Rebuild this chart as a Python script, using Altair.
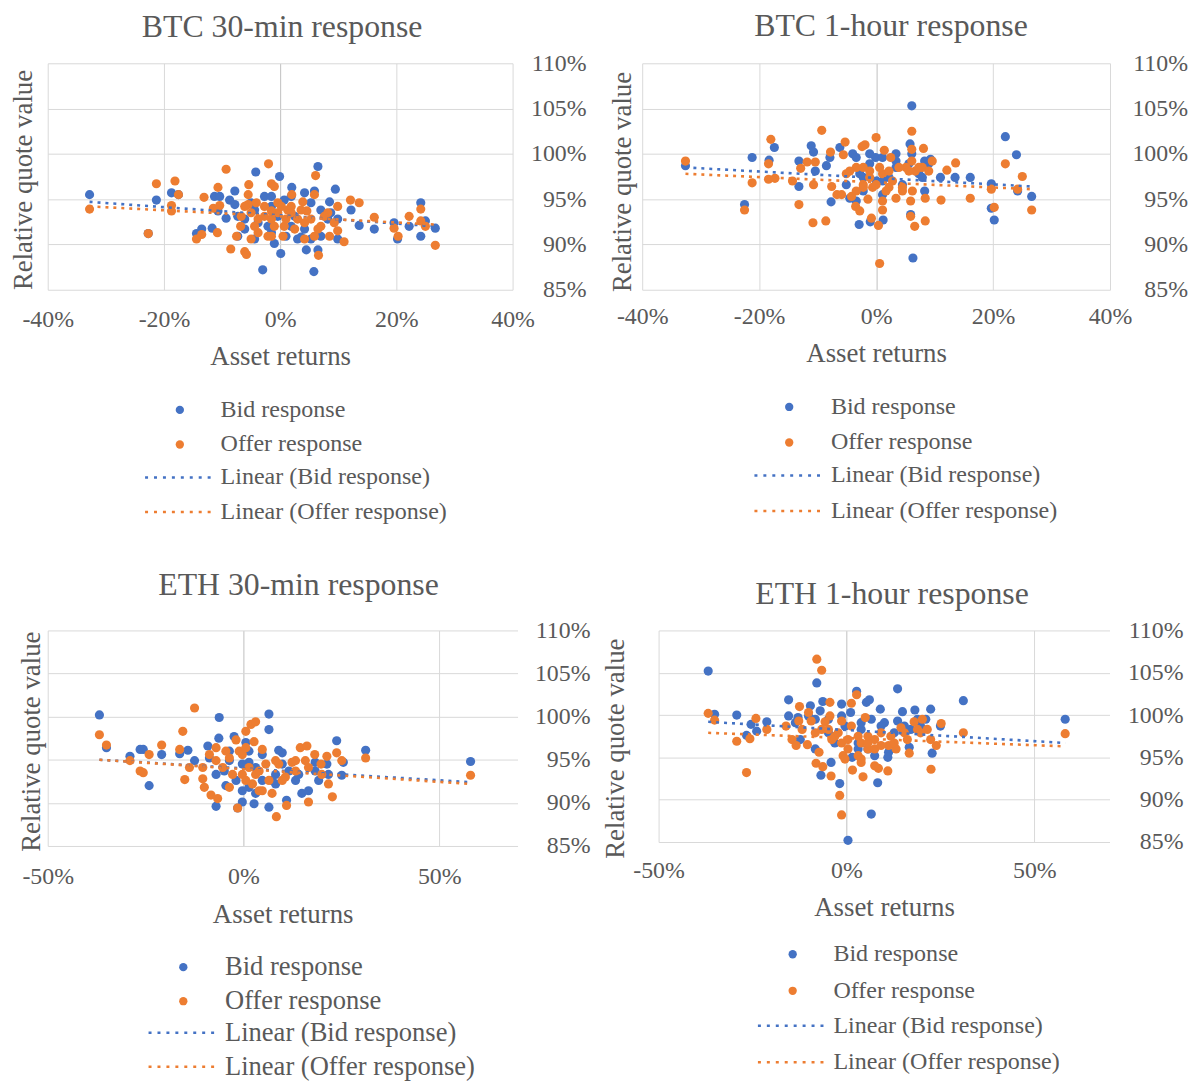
import altair as alt
import pandas as pd

BLUE = "#4472C4"
ORANGE = "#ED7D31"
TEXT = "#595959"
GRID = "#D9D9D9"
AXIS0 = "#BFBFBF"
FONT = "Liberation Serif"

SERIES = ["Bid response", "Offer response"]
TRENDS = ["Linear (Bid response)", "Linear (Offer response)"]
Y_TICKS = [85, 90, 95, 100, 105, 110]

# ---------------- data (asset return %, relative quote value %) ----------------
BTC30_BID = [(-32.8,95.5),(-21.3,94.9),(-18.7,95.7),(-17.5,95.5),(-22.7,91.2),(-14.4,91.2),(-13.5,91.7),(-11.7,91.8),
             (-11.3,95.3),(-10.4,95.3),(-10.7,93.7),(-9.3,92.9),(-7.8,95.9),(-8.7,94.9),(-7.8,94.4),(-4.2,98.0),(-0.1,97.5),
             (2.0,96.3),(6.5,98.6),(5.9,95.9),(9.5,96.1),(8.5,94.7),(12.2,93.8),(13.6,92.1),(16.2,91.7),(19.6,92.4),(22.2,92.0),
             (24.2,94.6),(25.0,92.6),(26.7,91.8),(24.2,90.9),(20.2,90.6),(-3.0,87.2),(5.8,87.0),(0.1,89.0),(-1.0,90.1),(4.5,89.4),
             (6.5,89.4),(-4.4,90.6),(-7.3,90.9),(3.6,90.8),(9.9,90.6),(-2.7,95.3),(-1.5,94.2),(0.7,94.9),(2.5,93.1),(-2.1,92.0),
             (-6.1,92.8),(7.0,93.8),(8.2,92.8),(4.2,91.7),(-4.4,93.8),(-0.4,93.1),(1.9,92.0),(5.3,94.6),(8.7,93.5),(-7.3,93.1),
             (1.0,90.9),(-1.5,91.3),(-5.0,94.6),(-1.5,95.3),(1.9,95.3),(4.2,95.7),(-3.8,92.4),(7.0,90.9),(5.3,90.6),(-6.1,91.7),
             (3.0,90.6),(9.9,92.8)]
BTC30_OFFER = [(-32.8,93.9),(-21.3,96.7),(-18.1,97.0),(-17.5,95.5),(-18.7,94.3),(-18.7,93.7),(-22.7,91.2),(-13.1,95.2),
               (-10.7,96.3),(-11.5,94.0),(-10.4,94.3),(-9.3,98.3),(-14.4,90.6),(-13.5,91.1),(-10.8,91.3),(-8.5,89.5),(-6.1,89.2),
               (-5.8,88.9),(-7.5,90.9),(-6.8,92.0),(-5.4,96.6),(-5.5,95.5),(-5.5,94.4),(-4.1,94.6),(-2.0,98.9),(-1.5,96.7),
               (-1.0,96.4),(2.0,95.5),(6.1,97.6),(5.9,95.5),(3.9,94.7),(4.6,93.7),(6.6,88.8),(12.1,94.9),(13.6,94.6),(9.9,94.2),
               (16.2,93.0),(19.6,91.8),(20.3,90.9),(22.2,93.1),(24.2,93.9),(24.2,92.6),(25.0,92.0),(26.7,89.9),(11.0,90.3),
               (8.5,90.9),(9.9,91.5),(-2.7,94.2),(-0.4,94.6),(1.3,93.8),(-1.5,92.8),(0.7,92.0),(3.0,92.8),(-3.8,91.3),(-2.1,90.9),
               (0.5,90.9),(2.5,91.7),(5.3,92.8),(7.0,92.0),(5.9,90.9),(8.2,93.5),(-4.4,92.0),(-6.7,93.1),(-0.4,93.5),(1.9,93.5),
               (4.2,90.6),(-5.0,90.6),(-1.5,93.7),(0.2,94.2),(1.9,94.2),(3.6,93.8),(-2.7,93.1),(-1.0,92.0),(1.0,92.8),(4.2,92.4),
               (6.5,91.7),(7.6,93.1),(-1.5,90.9),(-3.8,92.8),(-5.0,93.5),(-6.1,94.2),(9.3,92.4)]
BTC30_TREND_BID = [(-32.8,94.7),(26.7,92.0)]
BTC30_TREND_OFFER = [(-32.8,94.2),(26.7,92.2)]

BTC1H_BID = [(-32.6,98.7),(-22.5,94.4),(-21.2,99.6),(-18.3,99.3),(-17.4,100.7),(-13.2,96.4),(-13.2,99.2),(-11.1,100.9),
             (-10.7,100.2),(-10.4,98.1),(-8.5,98.7),(-7.7,94.7),(-7.9,99.6),(-6.2,100.7),(-4.0,100.0),(-2.9,92.2),(-1.0,92.5),
             (1.2,92.7),(-0.1,99.6),(6.1,105.3),(5.8,101.1),(6.1,100.0),(6.3,88.5),(5.9,93.3),(8.3,99.2),(8.3,95.9),(9.3,99.4),
             (11.0,97.4),(13.5,97.4),(16.1,97.4),(19.7,96.7),(19.7,94.0),(20.2,92.7),(22.1,101.9),(24.0,99.9),(24.2,95.9),
             (26.6,95.3),(-2.8,97.8),(-1.1,98.9),(2.2,97.4),(3.4,98.5),(4.5,96.6),(-2.2,95.9),(1.1,95.5),(7.3,97.8),(-5.1,96.6),
             (0.0,97.0),(-3.4,94.8),(3.4,100.0),(-3.4,99.6),(-1.1,100.0),(1.1,99.6),(3.4,99.2),(5.6,98.9),(-2.2,97.4),(1.1,97.0),
             (-4.5,95.1),(7.9,97.4),(9.0,98.9)]
BTC1H_OFFER = [(-32.6,99.2),(-22.5,93.8),(-21.2,96.8),(-18.4,98.9),(-18.4,97.2),(-18.0,101.6),(-17.3,97.3),(-14.3,97.0),
               (-13.2,94.4),(-12.9,98.4),(-10.7,96.6),(-10.8,92.4),(-11.8,99.1),(-10.4,99.1),(-9.3,102.6),(-8.6,92.6),(-7.8,100.2),
               (-7.6,96.4),(-5.6,99.9),(-5.3,101.3),(-6.7,95.5),(-5.9,95.5),(-4.2,95.3),(-3.5,94.2),(-2.8,93.7),(-2.4,100.8),
               (-1.9,101.0),(0.0,101.8),(-1.4,95.0),(-0.8,92.9),(0.4,92.1),(0.6,87.9),(1.1,93.8),(1.4,100.4),(2.5,99.6),(6.1,102.5),
               (6.1,100.5),(6.1,99.2),(6.2,95.9),(5.9,94.8),(5.9,93.1),(6.6,92.0),(8.1,100.6),(8.4,95.1),(8.4,92.6),(9.6,99.2),
               (11.1,94.9),(12.1,98.2),(13.6,99.0),(16.1,95.1),(19.7,96.1),(20.2,94.1),(22.1,98.9),(25.0,97.5),(24.2,96.1),
               (26.6,93.8),(-2.2,96.6),(-0.6,96.3),(1.1,97.8),(2.8,97.0),(4.5,96.3),(-3.4,98.5),(-1.1,98.1),(3.4,95.1),(6.7,98.1),
               (5.1,98.5),(1.7,95.9),(-5.1,97.8),(7.9,98.5),(-4.5,98.1),(-2.2,98.5),(-1.1,97.4),(0.6,98.5),(2.2,98.1),(3.9,98.5),
               (5.6,98.1),(-2.2,96.3),(0.0,96.6),(2.2,96.3),(1.1,94.8),(4.5,95.9),(7.3,98.5),(9.0,98.1),(-3.4,95.9)]
BTC1H_TREND_BID = [(-32.6,98.5),(26.6,96.4)]
BTC1H_TREND_OFFER = [(-32.6,97.8),(26.6,96.1)]

ETH30_BID = [(-36.8,100.2),(-35.0,96.4),(-29.0,95.4),(-26.4,96.2),(-25.6,96.2),(-24.1,92.0),(-20.9,95.6),(-16.3,95.7),
             (-14.2,96.1),(-12.5,94.9),(-9.1,96.6),(-6.2,99.9),(-6.3,97.5),(-7.0,89.6),(-4.5,92.0),(-2.4,97.7),(-1.5,89.4),
             (-0.3,90.1),(2.7,89.9),(0.6,97.0),(1.4,94.7),(6.5,100.3),(6.5,98.5),(6.5,89.5),(9.0,96.1),(9.9,95.8),(11.0,90.3),
             (14.9,91.1),(16.6,91.4),(18.3,94.7),(19.2,92.6),(21.3,94.5),(23.8,97.2),(25.1,93.2),(25.5,94.7),(31.2,96.1),
             (58.0,94.8),(-3.6,94.9),(3.1,94.1),(-1.9,92.6),(1.4,91.8),(4.8,92.6),(-7.0,93.3),(8.2,93.3),(11.6,93.7),(13.3,92.6),
             (-4.9,93.7),(-0.3,94.5),(8.2,92.2),(3.1,91.1),(-8.7,95.2),(-3.6,96.0),(1.4,96.0),(4.8,95.6),(-0.3,91.4),(7.3,92.6),
             (9.9,94.5),(14.1,93.3),(18.3,93.7),(21.7,93.3)]
ETH30_OFFER = [(-36.8,97.9),(-35.0,96.7),(-29.0,94.9),(-26.4,93.7),(-25.6,93.5),(-24.1,95.6),(-20.9,96.7),(-16.3,96.2),
               (-15.5,98.3),(-15.0,92.7),(-12.5,101.0),(-13.8,94.1),(-10.4,92.8),(-10.0,91.8),(-8.3,90.9),(-7.0,96.4),(-6.6,90.5),
               (-1.5,89.4),(0.6,98.3),(1.9,99.1),(3.1,99.4),(2.7,97.1),(-1.9,97.3),(4.8,96.2),(8.4,88.4),(11.0,89.7),(14.5,96.4),
               (16.2,96.6),(16.6,90.1),(18.2,95.6),(21.3,95.4),(21.7,92.2),(22.7,90.7),(23.8,95.8),(25.1,94.9),(31.2,95.2),
               (58.0,93.2),(-8.7,95.6),(-5.3,94.1),(-3.6,95.2),(-1.1,96.0),(-0.3,93.3),(2.3,92.2),(4.8,91.4),(6.5,92.6),(7.3,91.1),
               (4.0,93.7),(9.0,94.5),(12.4,94.7),(10.7,93.0),(13.3,93.7),(15.8,94.9),(20.0,93.3),(0.6,96.4),(1.4,94.1),
               (-7.0,94.9),(-4.5,96.0),(-2.8,93.3),(-0.3,95.6),(0.6,92.6),(3.1,93.3),(4.0,91.4),(5.7,94.5),(8.2,94.9),(9.9,92.6),
               (13.3,94.9),(16.6,94.1),(19.8,94.5),(-3.6,91.8),(-10.4,94.1)]
ETH30_TREND_BID = [(-36.8,95.0),(58.0,92.4)]
ETH30_TREND_OFFER = [(-36.8,95.0),(58.0,92.2)]

ETH1H_BID = [(-36.8,105.2),(-35.1,100.1),(-29.2,100.0),(-26.6,97.6),(-25.4,98.9),(-23.9,98.1),(-21.2,99.2),(-15.4,101.8),
             (-15.4,99.9),(-12.9,99.7),(-12.3,97.1),(-9.6,101.1),(-7.9,103.8),(-8.3,96.0),(-7.0,100.5),(-6.3,101.6),(-6.8,92.9),
             (-4.1,94.4),(-1.8,91.9),(-1.3,101.3),(0.4,85.2),(1.5,95.0),(2.7,102.8),(1.1,100.3),(5.3,101.5),(6.1,101.8),(6.6,88.3),
             (8.3,92.0),(9.0,100.7),(10.1,99.1),(11.2,95.6),(11.0,95.0),(13.6,103.1),(14.9,100.4),(16.7,96.2),(18.2,100.6),
             (21.1,99.5),(22.4,100.7),(22.8,95.5),(25.0,98.7),(31.1,101.7),(58.2,99.5),(-4.8,97.9),(-3.1,96.7),(-0.4,98.7),
             (3.9,98.3),(3.1,96.7),(5.7,96.0),(13.6,99.3),(12.7,97.9),(17.1,98.3),(18.9,99.5),(6.6,99.5),(-8.3,99.5),
             (-13.6,99.1),(-10.1,99.9),(-4.8,99.5),(-1.3,99.9),(3.9,99.1),(9.2,98.7),(15.4,98.7),(19.7,98.7),(3.1,96.0),(7.5,95.2)]
ETH1H_OFFER = [(-36.8,100.2),(-35.1,99.4),(-29.2,96.9),(-26.6,93.2),(-25.7,97.2),(-24.1,99.6),(-21.2,98.3),(-16.1,98.7),
               (-14.5,97.1),(-13.4,96.4),(-12.5,101.0),(-12.7,99.3),(-10.4,96.5),(-10.1,100.3),(-9.4,99.3),(-7.9,106.6),(-6.6,105.3),
               (-8.1,94.3),(-7.3,95.6),(-6.3,93.9),(-4.4,101.5),(-4.4,99.9),(-4.1,92.8),(-5.7,99.2),(-1.8,90.5),(-1.3,88.2),
               (-1.3,99.3),(1.3,101.4),(2.7,102.4),(1.6,93.5),(4.4,92.7),(5.0,99.7),(5.7,96.0),(7.5,96.0),(8.5,93.7),(11.0,93.4),
               (11.2,96.4),(13.2,96.0),(14.5,98.5),(16.7,95.5),(18.0,99.2),(20.2,99.5),(21.5,98.3),(22.5,93.6),(23.9,96.4),
               (25.2,99.0),(31.1,97.9),(58.2,97.8),(-6.6,98.3),(-3.1,97.5),(-1.3,96.7),(0.4,96.0),(-0.9,95.2),(3.9,96.7),(3.1,95.2),
               (5.7,97.5),(7.5,97.1),(3.9,94.4),(9.2,97.9),(11.8,97.5),(15.4,97.9),(18.9,98.3),(-3.9,97.1),(1.3,98.7),
               (-8.3,97.9),(-4.8,98.3),(-2.2,97.9),(0.4,97.1),(3.1,97.5),(5.7,96.7),(9.2,96.4),(12.7,96.7),(16.2,97.1),(19.7,97.9),
               (22.4,97.1),(-0.4,94.8),(3.9,94.8),(7.5,94.0),(-11.8,98.3)]
ETH1H_TREND_BID = [(-36.8,99.2),(58.2,96.7)]
ETH1H_TREND_OFFER = [(-36.8,97.9),(58.2,96.3)]

# custom legend glyph: a long horizontal stroke inside the unit box
LINE_GLYPH = "M-5,0H5"


def frame(pairs, label):
    return pd.DataFrame({"x": [p[0] for p in pairs], "y": [p[1] for p in pairs], "series": label})


def panel(c):
    pts = pd.concat([frame(c["bid"], SERIES[0]), frame(c["offer"], SERIES[1])], ignore_index=True)
    trd = pd.concat([frame(c["tbid"], TRENDS[0]), frame(c["toffer"], TRENDS[1])], ignore_index=True)

    x_axis = alt.Axis(
        values=c["xticks"], labelExpr="datum.value + '%'", labelFlush=False, labelOverlap=False,
        labelFont=FONT, labelFontSize=c["tick_fs"], labelColor=TEXT, labelPadding=c["xlab_pad"],
        labelBaseline="middle", ticks=False, tickSize=0, domain=False,
        grid=True, gridColor={"condition": {"test": "datum.value === 0", "value": AXIS0}, "value": GRID},
        gridWidth=1,
        title="Asset returns", titleFont=FONT, titleFontSize=c["title_fs"], titleFontWeight="normal",
        titleColor=TEXT, titleBaseline="middle", titleY=c["xtitle_y"],
    )
    y_axis = alt.Axis(
        orient="right", values=Y_TICKS, labelExpr="datum.value + '%'", labelFlush=False, labelOverlap=False,
        labelFont=FONT, labelFontSize=c["tick_fs"], labelColor=TEXT, labelAlign="right",
        labelPadding=c["ylab_pad"], ticks=False, tickSize=0, domain=False,
        grid=True, gridColor=GRID, gridWidth=1,
        title="Relative quote value", titleFont=FONT, titleFontSize=c["title_fs"], titleFontWeight="normal",
        titleColor=TEXT, titleAngle=270, titleAlign="center", titleBaseline="middle",
        titleX=c["ytitle_x"], titleY=c["ytitle_y"],
    )
    xs = alt.Scale(domain=c["xdom"], nice=False, zero=False)
    ys = alt.Scale(domain=[85, 110], nice=False, zero=False)

    lx, py, ly, loff, rpad = c["leg"]
    fs = c["leg_fs"]
    points = alt.Chart(pts).mark_circle(size=85, opacity=1).encode(
        x=alt.X("x:Q", scale=xs, axis=x_axis),
        y=alt.Y("y:Q", scale=ys, axis=y_axis),
        fill=alt.Fill("series:N", scale=alt.Scale(domain=SERIES, range=[BLUE, ORANGE]),
                      legend=alt.Legend(title=None, orient="none", legendX=lx, legendY=py,
                                        direction="vertical", symbolType="circle", symbolSize=70,
                                        symbolStrokeWidth=0, labelFont=FONT, labelFontSize=fs,
                                        labelColor=TEXT, labelOffset=loff, rowPadding=rpad, padding=0,
                                        labelLimit=500)),
    )
    lines = alt.Chart(trd).mark_line(strokeWidth=2.6, strokeDash=[3, 5]).encode(
        x=alt.X("x:Q", scale=xs),
        y=alt.Y("y:Q", scale=ys),
        stroke=alt.Stroke("series:N", scale=alt.Scale(domain=TRENDS, range=[BLUE, ORANGE]),
                          legend=alt.Legend(title=None, orient="none", legendX=lx, legendY=ly,
                                            direction="vertical", symbolType=LINE_GLYPH, symbolSize=196,
                                            symbolStrokeWidth=2.6, symbolDash=[3, 6], labelFont=FONT,
                                            labelFontSize=fs, labelColor=TEXT, labelOffset=loff,
                                            rowPadding=rpad, padding=0, labelLimit=500)),
    )
    return alt.layer(points, lines).properties(
        width=c["W"], height=c["H"],
        title=alt.TitleParams(c["title"], font=FONT, fontSize=32, fontWeight="normal", color=TEXT,
                              anchor="middle", frame="group", offset=c["toff"], dx=c["tdx"]),
    )


TL = panel(dict(title="BTC 30-min response", bid=BTC30_BID, offer=BTC30_OFFER, tbid=BTC30_TREND_BID,
                toffer=BTC30_TREND_OFFER, xdom=[-40, 40], xticks=[-40, -20, 0, 20, 40], W=468, H=228,
                tick_fs=24, title_fs=27, leg_fs=24.2, xlab_pad=30, xtitle_y=67, ylab_pad=74,
                ytitle_x=-492, ytitle_y=117, leg=(120.9, 336.9, 404.9, 28.9, 9.8),
                toff=7, tdx=2))
TR = panel(dict(title="BTC 1-hour response", bid=BTC1H_BID, offer=BTC1H_OFFER, tbid=BTC1H_TREND_BID,
                toffer=BTC1H_TREND_OFFER, xdom=[-40, 40], xticks=[-40, -20, 0, 20, 40], W=471, H=228,
                tick_fs=24, title_fs=27, leg_fs=24.2, xlab_pad=27, xtitle_y=64, ylab_pad=78,
                ytitle_x=-491, ytitle_y=119, leg=(135.9, 333.9, 402.9, 29.9, 10.8),
                toff=8, tdx=15))
BL = panel(dict(title="ETH 30-min response", bid=ETH30_BID, offer=ETH30_OFFER, tbid=ETH30_TREND_BID,
                toffer=ETH30_TREND_OFFER, xdom=[-50, 70], xticks=[-50, 0, 50], W=473, H=217,
                tick_fs=24, title_fs=27, leg_fs=26.7, xlab_pad=31, xtitle_y=69, ylab_pad=73,
                ytitle_x=-489.5, ytitle_y=111.5, leg=(123.15, 325.65, 391.65, 28.65, 6.3),
                toff=17, tdx=16))
BR = panel(dict(title="ETH 1-hour response", bid=ETH1H_BID, offer=ETH1H_OFFER, tbid=ETH1H_TREND_BID,
                toffer=ETH1H_TREND_OFFER, xdom=[-50, 70], xticks=[-50, 0, 50], W=454, H=213,
                tick_fs=24, title_fs=27, leg_fs=24.2, xlab_pad=29, xtitle_y=66, ylab_pad=74,
                ytitle_x=-497, ytitle_y=118.5, leg=(122.9, 313.9, 385.9, 28.9, 11.8),
                toff=8, tdx=8))

IND = dict(x="independent", y="independent", fill="independent", stroke="independent")
row1 = alt.hconcat(TL, TR, spacing=21.5).resolve_scale(**IND)
row2 = alt.hconcat(BL, BR, spacing=11).resolve_scale(**IND)
chart = (
    alt.vconcat(row1, row2, spacing=44)
    .resolve_scale(**IND)
    .properties(padding={"left": 1, "top": -1, "right": 0, "bottom": 0}, background="white")
    .configure_view(stroke=None)
)

chart.save("out.html", embed_options={"renderer": "svg", "actions": False})
